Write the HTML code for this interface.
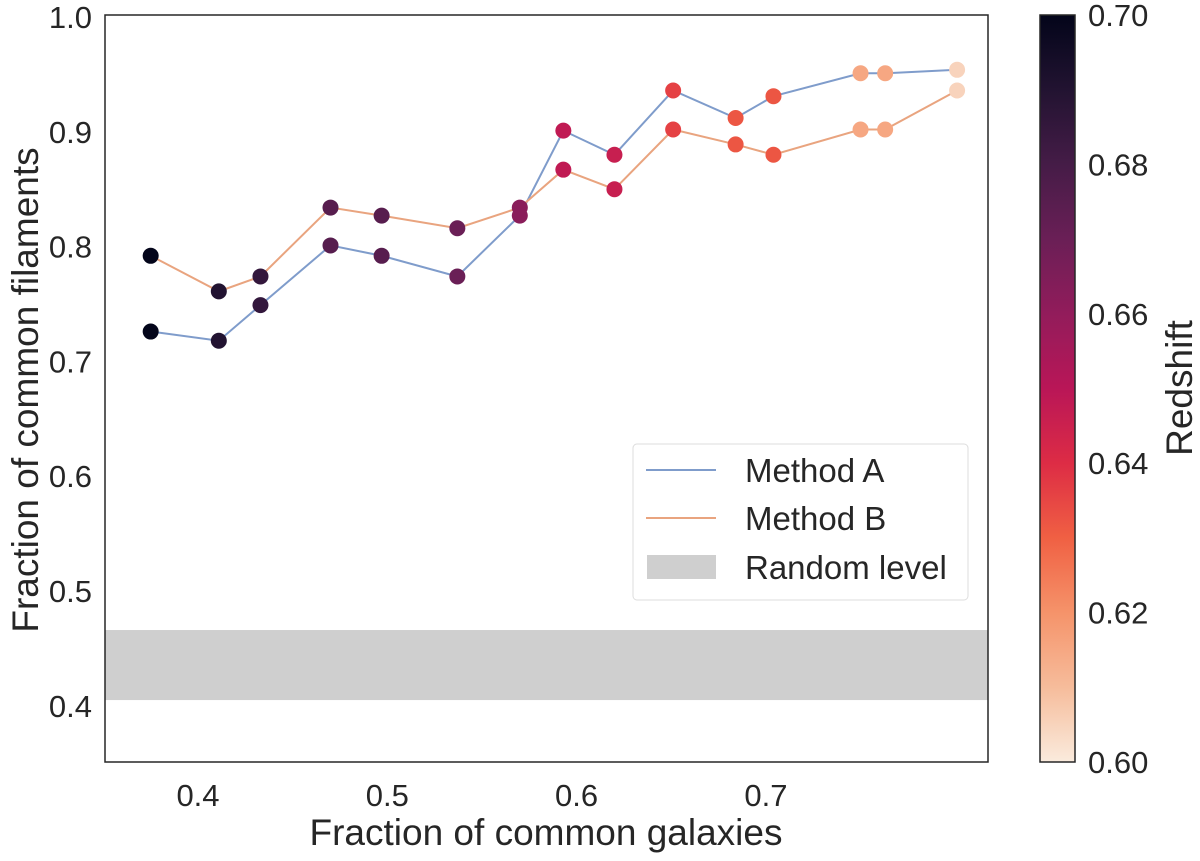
<!DOCTYPE html>
<html><head><meta charset="utf-8"><style>
html,body{margin:0;padding:0;background:#fff;}
svg text{font-family:"Liberation Sans",sans-serif;fill:#262626;}
</style></head><body>
<svg id="chart" width="1200" height="856" xmlns="http://www.w3.org/2000/svg">
<defs>
<linearGradient id="cbgrad" x1="0" y1="1" x2="0" y2="0">
<stop offset="0" stop-color="#faebdd"/><stop offset="0.1" stop-color="#f6bc9b"/><stop offset="0.2" stop-color="#f5936a"/><stop offset="0.3" stop-color="#f06043"/><stop offset="0.4" stop-color="#dd2c45"/><stop offset="0.5" stop-color="#b91657"/><stop offset="0.6" stop-color="#921c5b"/><stop offset="0.7" stop-color="#6a1f56"/><stop offset="0.8" stop-color="#451c47"/><stop offset="0.9" stop-color="#221331"/><stop offset="1" stop-color="#03051a"/>
</linearGradient>
</defs>
<g id="plot"></g>
</svg>
<script>
const xVals=[0.375,0.411,0.433,0.470,0.497,0.537,0.570,0.593,0.620,0.651,0.684,0.704,0.750,0.763,0.801];
const methodA=[0.726,0.718,0.749,0.801,0.792,0.774,0.827,0.901,0.880,0.936,0.912,0.931,0.951,0.951,0.954];
const methodB=[0.792,0.761,0.774,0.834,0.827,0.816,0.834,0.867,0.850,0.902,0.889,0.880,0.902,0.902,0.936];
const redshift=[0.700,0.690,0.685,0.675,0.675,0.670,0.662,0.648,0.646,0.636,0.632,0.632,0.615,0.615,0.605];
const xTicks=[0.4,0.5,0.6,0.7];
const yTicks=[0.4,0.5,0.6,0.7,0.8,0.9,1.0];
const cbTicks=[0.60,0.62,0.64,0.66,0.68,0.70];
const randomBand=[0.405,0.466];

const L=105,R=988,T=15,B=762;
const X=v=>198+(v-0.4)*1893;
const Y=v=>17+(1.0-v)*1148;
const CY=v=>762-(v-0.60)/0.10*747;
const NS='http://www.w3.org/2000/svg';
const g=document.getElementById('plot');
function mk(tag,attrs,parent){const e=document.createElementNS(NS,tag);for(const k in attrs)e.setAttribute(k,attrs[k]);(parent||g).appendChild(e);return e;}
const stops=[[3,5,26],[34,19,49],[69,28,71],[106,31,86],[146,28,91],[185,22,87],[221,44,69],[240,96,67],[245,147,106],[246,188,155],[250,235,221]];
function col(z){let t=(0.70-z)/0.10;t=Math.max(0,Math.min(1,t))*10;const i=Math.min(9,Math.floor(t)),f=t-i;const a=stops[i],b=stops[i+1];return 'rgb('+a.map((c,j)=>Math.round(c+(b[j]-c)*f)).join(',')+')';}

let e=mk('rect',{x:L,y:Y(randomBand[1]),width:R-L,height:Y(randomBand[0])-Y(randomBand[1]),fill:'#cfcfcf'});


function line(vals,color,name){const p=mk('polyline',{points:vals.map((v,i)=>X(xVals[i])+','+Y(v)).join(' '),fill:'none',stroke:color,'stroke-width':2});

}
line(methodA,'#7f9ccb','method-a-line');
line(methodB,'#e9a47f','method-b-line');
function pts(vals,name){vals.forEach((v,i)=>{const c=mk('circle',{cx:X(xVals[i]),cy:Y(v),r:8,fill:col(redshift[i])});

});}
pts(methodA,'method-a-point');pts(methodB,'method-b-point');
e=mk('rect',{x:L,y:T,width:R-L,height:B-T,fill:'none',stroke:'#262626','stroke-width':1.5});


xTicks.forEach(v=>{const t=mk('text',{x:X(v),y:806,'font-size':31,'text-anchor':'middle'});t.textContent=v.toFixed(1);

});
yTicks.forEach(v=>{const t=mk('text',{x:92,y:Y(v)+11,'font-size':31,'text-anchor':'end'});t.textContent=v.toFixed(1);

});
let t=mk('text',{x:546,y:845,'font-size':37,'text-anchor':'middle'});t.textContent='Fraction of common galaxies';


t=mk('text',{x:38,y:390,'font-size':37,'text-anchor':'middle',transform:'rotate(-90 38 390)'});t.textContent='Fraction of common filaments';


const lg=mk('g',{});


mk('rect',{x:633,y:444,width:335,height:156,fill:'#fff',stroke:'#dddddd','stroke-width':1,rx:4},lg);
mk('line',{x1:646,y1:470,x2:716,y2:470,stroke:'#7f9ccb','stroke-width':2},lg);
mk('line',{x1:646,y1:518,x2:716,y2:518,stroke:'#e9a47f','stroke-width':2},lg);
mk('rect',{x:647,y:555,width:69,height:24,fill:'#cfcfcf'},lg);
[['Method A',482],['Method B',530],['Random level',579]].forEach(([s,y])=>{const tx=mk('text',{x:745,y:y,'font-size':33},lg);tx.textContent=s;

});
e=mk('rect',{x:1040,y:15,width:35,height:747,fill:'url(#cbgrad)',stroke:'#262626','stroke-width':1.5});


cbTicks.forEach(v=>{const tx=mk('text',{x:1088,y:CY(v)+11,'font-size':31});tx.textContent=v.toFixed(2);

});
t=mk('text',{x:1192,y:388,'font-size':37,'text-anchor':'middle',transform:'rotate(-90 1192 388)'});t.textContent='Redshift';


</script>
</body></html>
